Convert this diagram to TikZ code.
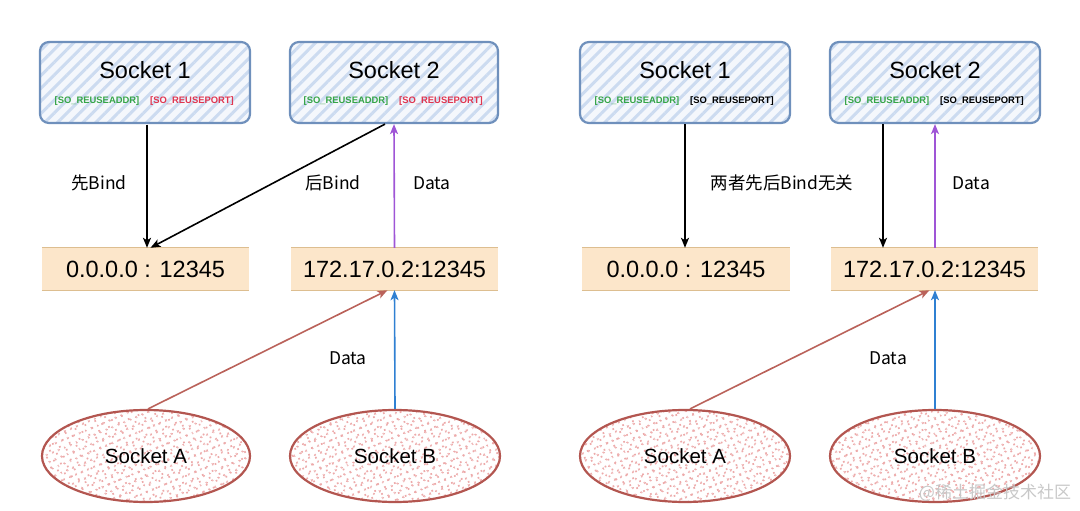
\documentclass[tikz,border=0pt]{standalone}
\usepackage{fontspec}
\setmainfont{Liberation Sans}
\newfontfamily\cjk{Noto Sans CJK SC}
\usetikzlibrary{arrows.meta,patterns.meta,shapes.geometric,calc}
\definecolor{boxline}{HTML}{6F90BC}
\definecolor{boxhatch}{HTML}{CCDBF0}
\definecolor{boxbg}{HTML}{F4F7FC}
\definecolor{addrfill}{HTML}{FCE6CA}
\definecolor{addrline}{HTML}{DDBE90}
\definecolor{ellline}{HTML}{B35650}
\definecolor{elldot}{HTML}{EDAAAA}
\definecolor{purp}{HTML}{9F55D6}
\definecolor{bluar}{HTML}{2F80D2}
\definecolor{redar}{HTML}{BA625A}
\definecolor{tgreen}{HTML}{36A548}
\definecolor{tred}{HTML}{E0354F}
\definecolor{wm}{HTML}{C8C8C8}
\tikzset{
  sockbox/.style={draw=boxline, line width=2.2pt, rounded corners=9pt,
    minimum height=81pt, preaction={fill=boxbg},
    pattern={Lines[angle=45,distance=9pt,line width=3pt]}, pattern color=boxhatch},
  addr/.style={fill=addrfill, minimum height=42pt, inner sep=0pt,
    font=\fontsize{23.5}{27}\selectfont},
  ell/.style={ellipse, draw=ellline, line width=2.2pt, minimum height=92pt,
    preaction={fill=white},
    preaction={pattern={Dots[radius=1.3pt,distance=6.5pt,angle=23]}, pattern color=elldot},
    pattern={Dots[radius=1.2pt,distance=7.5pt,angle=67]}, pattern color=elldot,
    font=\fontsize{20.5}{24}\selectfont},
  title/.style={font=\fontsize{23.5}{27}\selectfont},
  tag/.style={font=\fontsize{9.4}{11}\selectfont\bfseries, inner sep=0pt},
  lbl/.style={font=\cjk\fontsize{17.5}{21}\selectfont},
  arr/.style={line width=1.6pt, -{Stealth[length=10pt,width=8pt,inset=2.5pt]}},
}
\begin{document}
\begin{tikzpicture}[x=1pt,y=-1pt]
\useasboundingbox (0,0) rectangle (1080,511);
% ---- socket boxes
\node[sockbox, minimum width=210pt] (s1) at (145,82.5) {};
\node[sockbox, minimum width=208pt] (s2) at (394,82.5) {};
\node[sockbox, minimum width=210pt] (s3) at (685,82.5) {};
\node[sockbox, minimum width=210pt] (s4) at (935,82.5) {};
\node[title] (t1) at (145,70) {Socket 1};
\node[title] (t2) at (394,70) {Socket 2};
\node[title] (t3) at (685,70) {Socket 1};
\node[title] (t4) at (935,70) {Socket 2};
\node[tag, text=tgreen] (g1) at (97,101) {[SO\_REUSEADDR]};
\node[tag, text=tred] (r1) at (192,101) {[SO\_REUSEPORT]};
\node[tag, text=tgreen] (g2) at (346,101) {[SO\_REUSEADDR]};
\node[tag, text=tred] (r2) at (441,101) {[SO\_REUSEPORT]};
\node[tag, text=tgreen] (g3) at (637,101) {[SO\_REUSEADDR]};
\node[tag] (r3) at (732,101) {[SO\_REUSEPORT]};
\node[tag, text=tgreen] (g4) at (887,101) {[SO\_REUSEADDR]};
\node[tag] (r4) at (982,101) {[SO\_REUSEPORT]};
% ---- address boxes
\node[addr, minimum width=207pt] (a1) at (145.5,269) {0.0.0.0 : 12345};
\node[addr, minimum width=207pt] (b2) at (394.5,269) {172.17.0.2:12345};
\node[addr, minimum width=208pt] (a3) at (686,269) {0.0.0.0 : 12345};
\node[addr, minimum width=207pt] (b4) at (934.5,269) {172.17.0.2:12345};
\foreach \n in {a1,b2,a3,b4}{
  \draw[addrline, line width=1pt] (\n.north west) -- (\n.north east);
  \draw[addrline, line width=1pt] (\n.south west) -- (\n.south east);
}
% ---- ellipses
\node[ell, minimum width=208pt] (sa) at (146,456) {Socket A};
\node[ell, minimum width=210pt] (sb) at (395,456) {Socket B};
\node[ell, minimum width=210pt] (sc) at (685,456) {Socket A};
\node[ell, minimum width=210pt] (sd) at (935,456) {Socket B};
% ---- left connectors
\draw[arr] ($(s1.south)+(2,0)$) -- ($(a1.north)+(1.5,0)$);
\draw[arr] ($(s2.south)+(-9,0)$) -- ($(a1.north)+(5,0)$);
\draw[arr, purp] (b2.north) -- (s2.south);
\draw[arr, redar] ($(sa.north)+(2,0)$) -- ($(b2.south)+(-7,0)$);
\draw[arr, bluar] (sb.north) -- (b2.south);
% ---- right connectors
\draw[arr] (s3.south) -- ($(a3.north)+(-1,0)$);
\draw[arr] ($(s4.south)+(-52,0)$) -- ($(b4.north)+(-51.5,0)$);
\draw[arr, purp] ($(b4.north)+(0.5,0)$) -- (s4.south);
\draw[arr, redar] ($(sc.north)+(5,0)$) -- ($(b4.south)+(-5,0)$);
\draw[arr, bluar] (sd.north) -- ($(b4.south)+(0.5,0)$);
% ---- labels
\node[lbl] (l1) at (99,183) {先Bind};
\node[lbl] (l2) at (333,183) {后Bind};
\node[lbl] (l3) at (432,183) {Data};
\node[lbl] (l4) at (348,358) {Data};
\node[lbl] (l5) at (782,183) {两者先后Bind无关};
\node[lbl] (l6) at (971,183) {Data};
\node[lbl] (l7) at (888,358) {Data};
\node[font=\cjk\fontsize{17}{20}\selectfont, text=wm] (wmk) at (995,493) {@稀土掘金技术社区};
\end{tikzpicture}
\end{document}
